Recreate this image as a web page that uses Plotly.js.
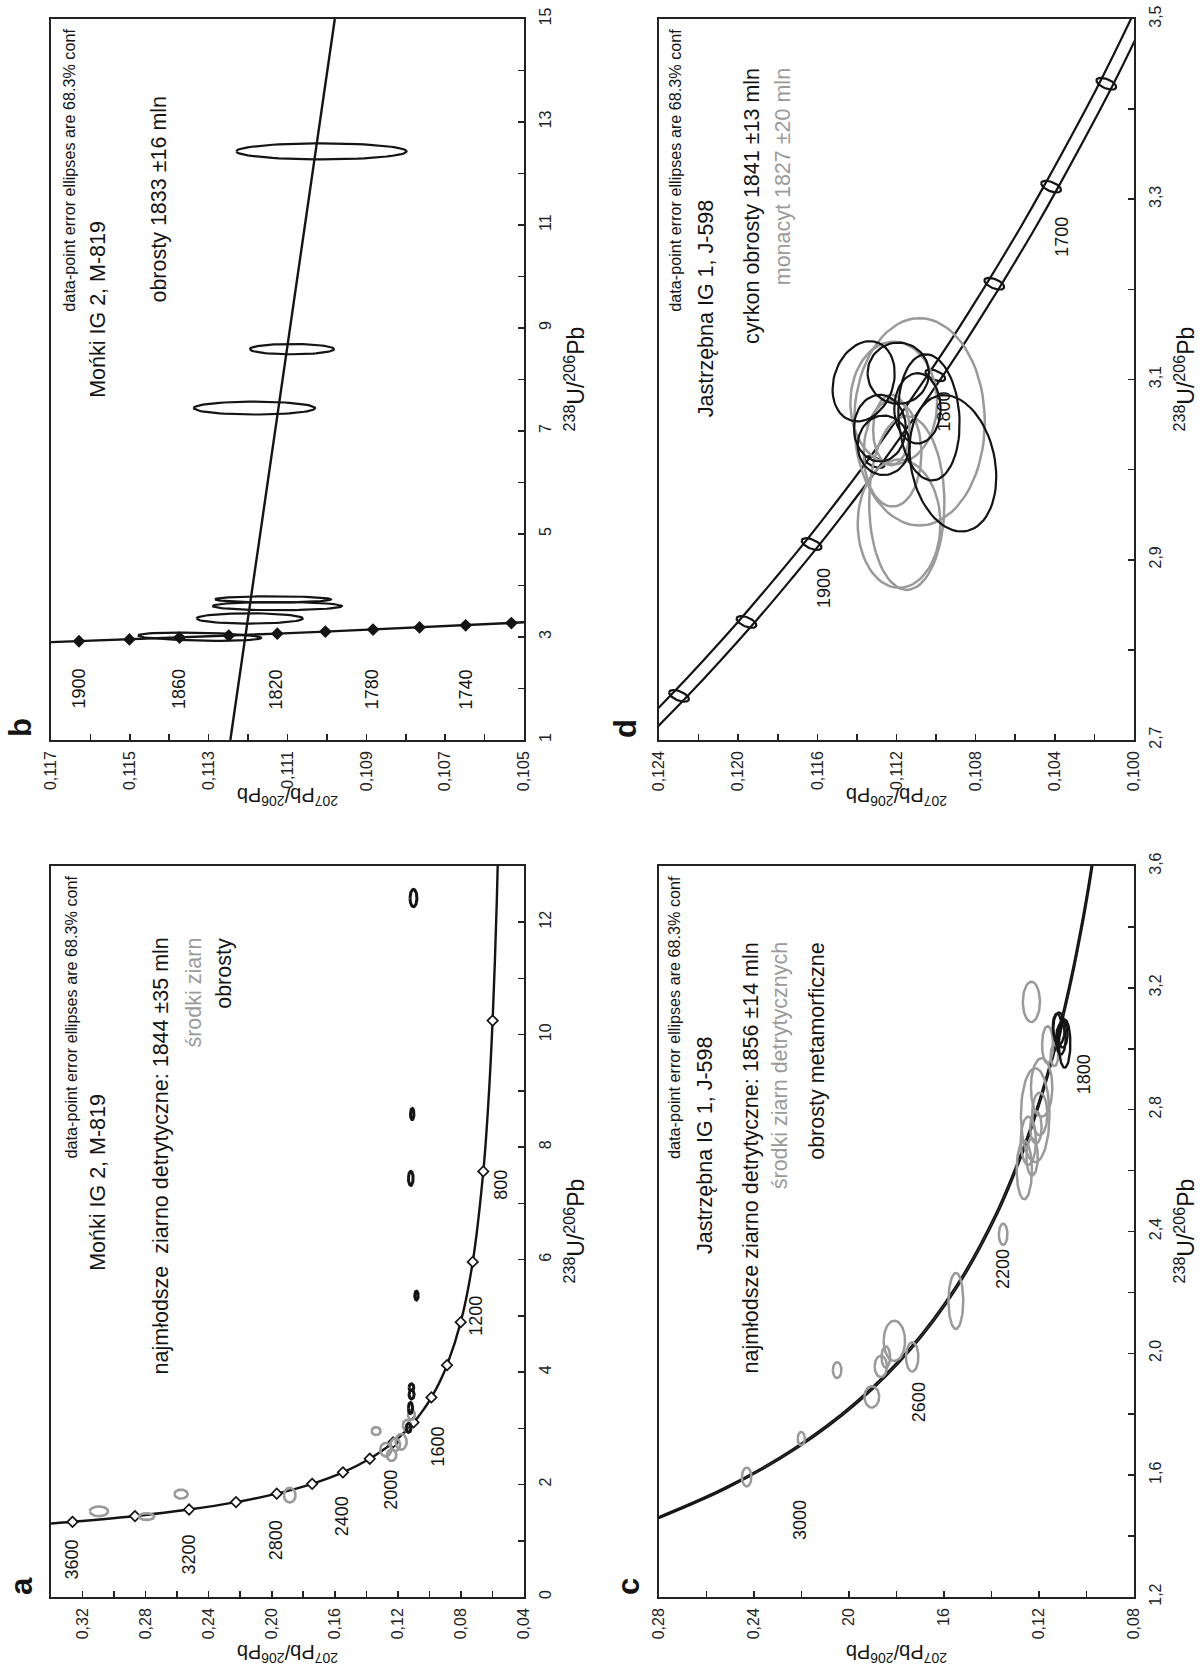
<!DOCTYPE html>
<html><head><meta charset="utf-8">
<script src="https://cdn.plot.ly/plotly-3.0.1.min.js"></script>
<style>html,body{margin:0;padding:0;background:#fff;overflow:hidden}#chart{width:1204px;height:1672px}</style>
</head><body><div id="chart"></div>
<script>
// ---------- DATA ----------
// Tera-Wasserburg concordia reference points: age (Ma), 238U/206Pb, 207Pb/206Pb
const concAge = [3700,3600,3400,3200,3000,2800,2600,2400,2200,2050,2000,1950,1920,1900,1880,1860,1850,1840,1820,1800,1780,1760,1750,1740,1720,1700,1650,1600,1500,1400,1200,1000,800,700,600,500,450];
const concU   = [1.2899,1.3370,1.4398,1.5557,1.6874,1.8384,2.0129,2.2170,2.4586,2.6711,2.7490,2.8310,2.8823,2.9174,2.9532,2.9898,3.0084,3.0272,3.0655,3.1046,3.1446,3.1855,3.2063,3.2273,3.2701,3.3140,3.4282,3.5497,3.8170,4.1227,4.8875,5.9593,7.5681,8.7183,10.2518,12.399,13.831];
const concPb  = [0.34840,0.32635,0.28674,0.25242,0.22266,0.19682,0.17437,0.15483,0.13782,0.12651,0.12299,0.11958,0.11760,0.11629,0.11501,0.11374,0.11311,0.11249,0.11126,0.11004,0.10883,0.10765,0.10706,0.10648,0.10532,0.10419,0.10140,0.09872,0.09360,0.08881,0.08012,0.07250,0.06580,0.06276,0.05990,0.05722,0.05594];
const concEnvRel = 0.0036;          // relative half-width of decay-constant envelope (207Pb/206Pb)

const markAgesA = [3600,3400,3200,3000,2800,2600,2400,2200,2000,1800,1600,1400,1200,1000,800,600];
const markAgesB = [1900,1880,1860,1840,1820,1800,1780,1760,1740,1720];
const markAgesD = [2000,1950,1900,1850,1800,1750,1700,1650];
const markEllD  = [0.00050, 0.0065, 0.55];   // age-point ellipse: s(Pb), s(U), rho

// Error ellipses: [207Pb/206Pb, 238U/206Pb, s207/206, s238/206, rho]
const coresA = [[0.3096,1.524,0.0058,0.086,0],[0.2794,1.430,0.0048,0.060,0],[0.2575,1.830,0.0042,0.080,0],
  [0.1886,1.810,0.0037,0.130,0],[0.1338,2.950,0.0028,0.070,0],[0.1277,2.620,0.0035,0.120,0],[0.1240,2.520,0.0030,0.100,0],
  [0.1216,2.710,0.0030,0.110,0],[0.1179,2.760,0.0035,0.140,0],[0.1143,3.050,0.0025,0.100,0],[0.1114,3.240,0.0022,0.090,0]];
const rimsA = [[0.1101,12.43,0.0022,0.156,0],[0.1109,8.59,0.0011,0.10,0],[0.1118,7.445,0.0015,0.125,0],[0.1082,5.36,0.0011,0.08,0],
  [0.1114,3.73,0.0015,0.06,0],[0.1113,3.60,0.0016,0.08,0],[0.1120,3.36,0.00135,0.10,0],[0.1132,3.006,0.00156,0.08,0]];
const rimsB = [[0.11014,12.43,0.00216,0.156,0],[0.11089,8.59,0.00107,0.10,0],[0.11184,7.445,0.00154,0.125,0],
  [0.11137,3.73,0.00147,0.06,0],[0.11126,3.60,0.00164,0.08,0],[0.11196,3.36,0.00135,0.10,0],[0.11323,3.006,0.00156,0.08,0.3]];
const discB_U  = [1, 15];
const discB_Pb = [0.11245, 0.10980];
const coresC = [[0.2431,1.594,0.0020,0.031,0],[0.2201,1.720,0.0015,0.022,0],[0.2050,1.945,0.0018,0.026,0],[0.1904,1.857,0.0031,0.035,0],
  [0.1866,1.957,0.0026,0.035,0],[0.1845,1.988,0.0018,0.035,0],[0.1809,2.041,0.0045,0.066,0],[0.1734,1.988,0.0026,0.048,0],
  [0.1550,2.172,0.0031,0.092,0],[0.1351,2.391,0.0018,0.035,0],[0.1262,2.602,0.0032,0.096,0],[0.1245,2.698,0.0032,0.079,0],
  [0.1229,2.645,0.0024,0.061,0],[0.1213,2.742,0.0024,0.053,0],[0.1197,2.786,0.0032,0.070,0],[0.1216,2.782,0.0060,0.154,0],
  [0.1189,2.873,0.0045,0.096,0],[0.1164,3.013,0.0023,0.061,0],[0.1232,3.154,0.0036,0.066,0],[0.1135,2.978,0.0016,0.035,0]];
const rimsC = [[0.1116,3.066,0.0024,0.053,0],[0.1100,3.048,0.0020,0.044,0],[0.1108,3.031,0.0020,0.050,0],[0.1092,3.017,0.0024,0.079,0],[0.1124,3.075,0.0018,0.040,0]];
const rimsD = [[0.10915,3.007,0.00219,0.0757,0.2],[0.11366,3.098,0.00157,0.0445,-0.2],[0.11191,3.107,0.00155,0.034,0],
  [0.11036,3.058,0.00155,0.070,0.1],[0.11284,3.046,0.00131,0.037,0],[0.11265,3.027,0.00131,0.033,0],[0.11094,3.068,0.00117,0.039,0]];
const monD = [[0.11084,3.053,0.00330,0.115,0],[0.11187,2.940,0.00209,0.0712,0],[0.11148,2.963,0.00190,0.0965,0],
  [0.11220,3.018,0.00146,0.059,0],[0.11214,3.074,0.00219,0.068,0],[0.11226,3.044,0.00092,0.039,0]];

// Tick labels
const tickA_Pb = [0.32,0.28,0.24,0.20,0.16,0.12,0.08,0.04], tickA_PbTxt = ["0,32","0,28","0,24","0,20","0,16","0,12","0,08","0,04"];
const tickA_U = [0,2,4,6,8,10,12], tickA_UTxt = ["0","2","4","6","8","10","12"];
const tickB_Pb = [0.117,0.115,0.113,0.111,0.109,0.107,0.105], tickB_PbTxt = ["0,117","0,115","0,113","0,111","0,109","0,107","0,105"];
const tickB_U = [1,3,5,7,9,11,13,15], tickB_UTxt = ["1","3","5","7","9","11","13","15"];
const tickC_Pb = [0.28,0.24,0.20,0.16,0.12,0.08], tickC_PbTxt = ["0,28","0,24","20","16","0,12","0,08"];
const tickC_U = [1.2,1.6,2.0,2.4,2.8,3.2,3.6], tickC_UTxt = ["1,2","1,6","2,0","2,4","2,8","3,2","3,6"];
const tickD_Pb = [0.124,0.120,0.116,0.112,0.108,0.104,0.100], tickD_PbTxt = ["0,124","0,120","0,116","0,112","0,108","0,104","0,100"];
const tickD_U = [2.7,2.9,3.1,3.3,3.5], tickD_UTxt = ["2,7","2,9","3,1","3,3","3,5"];

// ---------- BUILD ----------
const BLACK = '#141414', GRAY = '#9a9a9a', AX = '#222';
const data = [];
function line(xa, ya, xs, ys, color, width, shape) {
  data.push({type:'scatter', mode:'lines', x:xs, y:ys, xaxis:xa, yaxis:ya,
    line:{color:color, width:width, shape:shape||'linear', smoothing:1}, hoverinfo:'skip', showlegend:false, connectgaps:false});
}
function ellPts(e) {
  const xs = [], ys = [], n = 72, r = e[4], q = Math.sqrt(1 - r*r);
  for (let i = 0; i <= n; i++) {
    const t = 2*Math.PI*i/n;
    xs.push(e[0] + e[2]*Math.cos(t));
    ys.push(e[1] + e[3]*(r*Math.cos(t) + q*Math.sin(t)));
  }
  return {x:xs, y:ys};
}
function ellipses(xa, ya, list, color, width) {
  const xs = [], ys = [];
  list.forEach(e => { const p = ellPts(e); xs.push(...p.x, null); ys.push(...p.y, null); });
  line(xa, ya, xs, ys, color, width);
}
function concSel(lo, hi) {
  const u = [], p = [];
  concAge.forEach((a, i) => { if (a >= lo && a <= hi) { u.push(concU[i]); p.push(concPb[i]); } });
  return {u:u, p:p};
}
function markers(xa, ya, ages, symbolFill, size) {
  const u = [], p = [];
  ages.forEach(a => { const i = concAge.indexOf(a); u.push(concU[i]); p.push(concPb[i]); });
  data.push({type:'scatter', mode:'markers', x:p, y:u, xaxis:xa, yaxis:ya, hoverinfo:'skip', showlegend:false,
    marker:{symbol:'diamond', size:size, color:symbolFill, line:{color:BLACK, width:1.7}}});
}

// Panel b (x/y)
let c = concSel(1700, 1920);
line('x','y', c.p, c.u, BLACK, 2.4);
markers('x','y', markAgesB, BLACK, 8);
line('x','y', discB_Pb, discB_U, BLACK, 2.4);
ellipses('x','y', rimsB, BLACK, 2.2);

// Panel d (x2/y2)
c = concSel(1600, 2050);
line('x2','y2', c.p.map(v => v*(1+concEnvRel)), c.u, BLACK, 2.2, 'spline');
line('x2','y2', c.p.map(v => v*(1-concEnvRel)), c.u, BLACK, 2.2, 'spline');
ellipses('x2','y2', markAgesD.map(a => { const i = concAge.indexOf(a); return [concPb[i], concU[i], markEllD[0], markEllD[1], markEllD[2]]; }), BLACK, 2.2);
ellipses('x2','y2', monD, GRAY, 2.5);
ellipses('x2','y2', rimsD, BLACK, 2.2);

// Panel a (x3/y3)
c = concSel(400, 3800);
line('x3','y3', c.p, c.u, BLACK, 2.4, 'spline');
markers('x3','y3', markAgesA, '#ffffff', 8);
ellipses('x3','y3', coresA, GRAY, 2.6);
ellipses('x3','y3', rimsA, BLACK, 3);

// Panel c (x4/y4)
c = concSel(1500, 3400);
line('x4','y4', c.p.map(v => v*(1+concEnvRel*0.8)), c.u, BLACK, 1.8, 'spline');
line('x4','y4', c.p.map(v => v*(1-concEnvRel*0.8)), c.u, BLACK, 1.8, 'spline');
ellipses('x4','y4', coresC, GRAY, 2.5);
ellipses('x4','y4', rimsC, BLACK, 2.4);

// ---------- LAYOUT ----------
const W = 1204, H = 1672;
const FONT = 'Liberation Sans, Arial, Helvetica, sans-serif';
function hdom(l, r) { return [l/W, r/W]; }
function vdom(t, b) { return [1 - b/H, 1 - t/H]; }
function axPb(dom, range, tv, tt, mdt, anchor) {
  return {domain:dom, range:range, anchor:anchor, tickmode:'array', tickvals:tv, ticktext:tt, tickangle:-90,
    ticks:'inside', ticklen:6, tickwidth:1.6, tickcolor:AX, ticklabelstandoff:3,
    minor:{ticks:'inside', ticklen:6, tickwidth:1.6, tickcolor:AX, dtick:mdt, tick0:range[1], showgrid:false},
    showline:true, linecolor:AX, linewidth:1.8, mirror:true, showgrid:false, zeroline:false,
    tickfont:{size:16, color:AX, family:FONT}, fixedrange:true};
}
function axU(dom, range, tv, tt, mdt, anchor) {
  return {domain:dom, range:range, anchor:anchor, side:'right', tickmode:'array', tickvals:tv, ticktext:tt, tickangle:-90,
    ticks:'inside', ticklen:6, tickwidth:1.6, tickcolor:AX, ticklabelstandoff:6,
    minor:{ticks:'inside', ticklen:6, tickwidth:1.6, tickcolor:AX, dtick:mdt, tick0:range[0], showgrid:false},
    showline:true, linecolor:AX, linewidth:1.8, mirror:true, showgrid:false, zeroline:false,
    tickfont:{size:16, color:AX, family:FONT}, fixedrange:true};
}
const L1 = 51, R1 = 524, L2 = 659, R2 = 1134, T1 = 19, B1 = 740, T2 = 866, B2 = 1597;

const ann = [];
const MAIN = 21.5, AGE = 18, NOTESZ = 16.2;
function A(xr, yr, x, y, text, size, opt) {
  ann.push(Object.assign({xref:xr, yref:yr, x:x, y:y, text:text, showarrow:false, textangle:-90,
    font:{size:size, color:BLACK, family:FONT}, xanchor:'center', yanchor:'middle'}, opt||{}));
}
const NOTE = 'data-point error ellipses are 68.3% conf';
// panel b
A('x','y',0.11654,15,NOTE,NOTESZ,{yanchor:'top', yshift:-8});
A('x','y',0.11581,9.37,'Mońki IG 2, M-819',MAIN);
A('x','y',0.11425,13.55,'obrosty 1833 ±16 mln',MAIN,{yanchor:'top'});
[[1900,0.11630],[1860,0.11375],[1820,0.11128],[1780,0.10885],[1740,0.10646]].forEach(v => A('x','y',v[1],1.99,String(v[0]),AGE));
// panel d
A('x2','y2',0.12318,3.5,NOTE,NOTESZ,{yanchor:'top', yshift:-8});
A('x2','y2',0.12163,3.179,'Jastrzębna IG 1, J-598',MAIN);
A('x2','y2',0.11930,3.448,'cyrkon obrosty 1841 ±13 mln',MAIN,{yanchor:'top'});
A('x2','y2',0.11774,3.448,'monacyt 1827 ±20 mln',MAIN,{yanchor:'top', font:{size:MAIN, color:GRAY, family:FONT}});
A('x2','y2',0.1157,2.869,'1900',AGE);
A('x2','y2',0.10958,3.065,'1800',AGE);
A('x2','y2',0.10365,3.258,'1700',AGE);
// panel a
A('x3','y3',0.3273,13,NOTE,NOTESZ,{yanchor:'top', yshift:-8});
A('x3','y3',0.3103,7.38,'Mońki IG 2, M-819',MAIN);
A('x3','y3',0.2701,11.76,'najmłodsze\u00a0 ziarno detrytyczne: 1844 ±35 mln',MAIN,{yanchor:'top'});
A('x3','y3',0.2494,11.76,'środki ziarn',MAIN,{yanchor:'top', font:{size:MAIN, color:GRAY, family:FONT}});
A('x3','y3',0.2299,11.76,'obrosty',MAIN,{yanchor:'top'});
[[3600,0.3261,0.667],[3200,0.2523,0.76],[2800,0.1976,1.0],[2400,0.1557,1.43],[2000,0.1240,1.90],[1600,0.0948,2.67],[1200,0.0705,5.0],[800,0.0546,7.33]]
  .forEach(v => A('x3','y3',v[1],v[2],String(v[0]),AGE));
// panel c
A('x4','y4',0.2735,3.6,NOTE,NOTESZ,{yanchor:'top', yshift:-8});
A('x4','y4',0.2606,2.684,'Jastrzębna IG 1, J-598',MAIN);
A('x4','y4',0.2411,3.355,'najmłodsze ziarno detrytyczne: 1856 ±14 mln',MAIN,{yanchor:'top'});
A('x4','y4',0.2290,3.355,'środki ziarn detrytycznych',MAIN,{yanchor:'top', font:{size:MAIN, color:GRAY, family:FONT}});
A('x4','y4',0.2136,3.355,'obrosty metamorficzne',MAIN,{yanchor:'top'});
[[3000,0.2209,1.454],[2600,0.1702,1.839],[2200,0.1351,2.277],[1800,0.1010,2.917]].forEach(v => A('x4','y4',v[1],v[2],String(v[0]),AGE));

// axis titles & panel letters (paper)
const UT = '<sup>238</sup>U/<sup>206</sup>Pb', PT = '<sup>207</sup>Pb/<sup>206</sup>Pb';
[[R1,T1,B1],[R2,T1,B1],[R1,T2,B2],[R2,T2,B2]].forEach(p => A('paper','paper',(p[0]+50)/W,1-((p[1]+p[2])/2)/H,UT,23));
[[L1,R1,B1],[L2,R2,B1],[L1,R1,B2],[L2,R2,B2]].forEach(p => A('paper','paper',((p[0]+p[1])/2)/W,1-(p[2]+57)/H,PT,20,{textangle:180}));
[['b',21,728],['d',626,729],['a',21,1586],['c',628,1587]].forEach(p =>
  A('paper','paper',p[1]/W,1-p[2]/H,'<b>'+p[0]+'</b>',31));

const layout = {
  width:W, height:H, margin:{l:0,r:0,t:0,b:0}, paper_bgcolor:'#fff', plot_bgcolor:'#fff', showlegend:false,
  font:{family:FONT, color:BLACK},
  xaxis: axPb(hdom(L1,R1), [0.117,0.105], tickB_Pb, tickB_PbTxt, 0.001, 'y'),
  yaxis: axU(vdom(T1,B1), [1,15], tickB_U, tickB_UTxt, 1, 'x'),
  xaxis2: axPb(hdom(L2,R2), [0.124,0.100], tickD_Pb, tickD_PbTxt, 0.002, 'y2'),
  yaxis2: axU(vdom(T1,B1), [2.7,3.5], tickD_U, tickD_UTxt, 0.1, 'x2'),
  xaxis3: axPb(hdom(L1,R1), [0.34,0.04], tickA_Pb, tickA_PbTxt, 0.02, 'y3'),
  yaxis3: axU(vdom(T2,B2), [0,13], tickA_U, tickA_UTxt, 1, 'x3'),
  xaxis4: axPb(hdom(L2,R2), [0.28,0.08], tickC_Pb, tickC_PbTxt, 0.02, 'y4'),
  yaxis4: axU(vdom(T2,B2), [1.2,3.6], tickC_U, tickC_UTxt, 0.2, 'x4'),
  annotations: ann
};
Plotly.newPlot('chart', data, layout, {staticPlot:true, displayModeBar:false});
</script></body></html>
